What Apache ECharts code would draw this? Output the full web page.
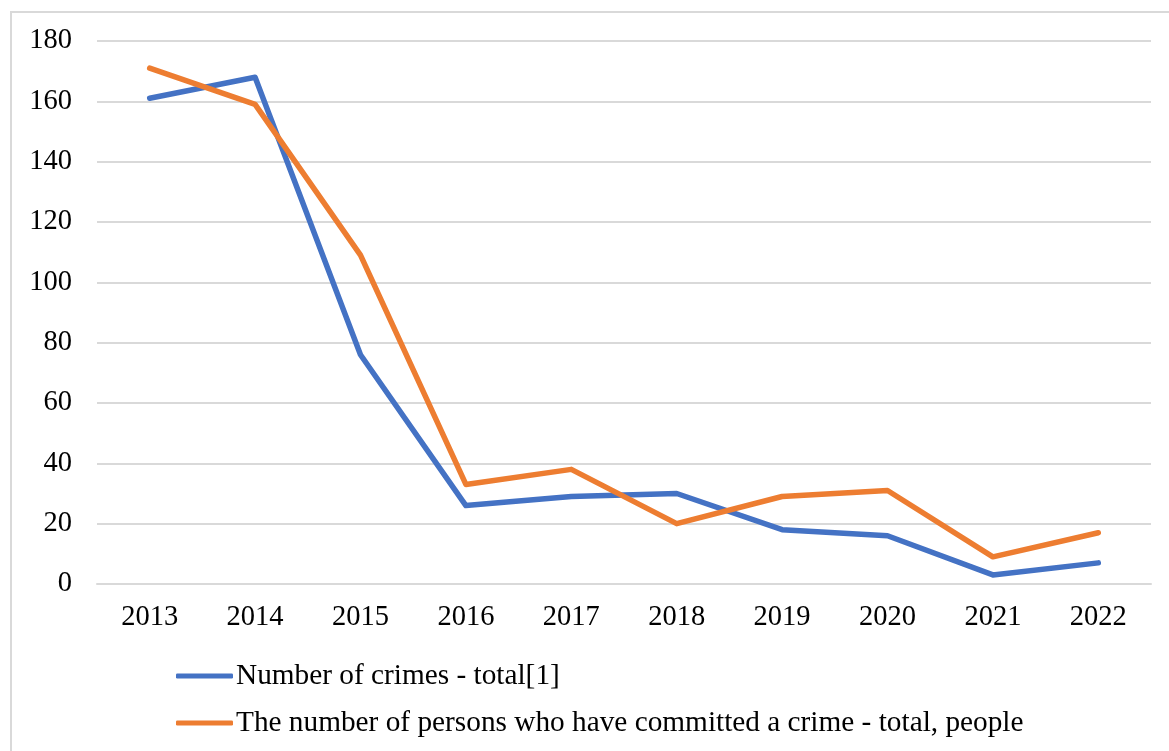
<!DOCTYPE html>
<html>
<head>
<meta charset="utf-8">
<script src="https://cdn.jsdelivr.net/npm/echarts@6/dist/echarts.min.js"></script>
<style>
  html, body { margin: 0; padding: 0; background: #fff; }
  #chart { width: 1169px; height: 751px; }
</style>
</head>
<body>
<div id="chart"></div>
<script>
const years = ['2013', '2014', '2015', '2016', '2017', '2018', '2019', '2020', '2021', '2022'];
const crimesTotal = [161, 168, 76, 26, 29, 30, 18, 16, 3, 7];
const personsTotal = [171, 159, 109, 33, 38, 20, 29, 31, 9, 17];
const yTicks = { min: 0, max: 180, interval: 20 };
const seriesNames = [
  'Number of crimes - total[1]',
  'The number of persons who have committed a crime - total, people'
];

const font = '"Liberation Serif", "Times New Roman", serif';
const chart = echarts.init(document.getElementById('chart'));

chart.setOption({
  backgroundColor: '#ffffff',
  animation: false,
  graphic: [{
    type: 'rect',
    shape: { x: 11, y: 12, width: 1300, height: 900 },
    style: { fill: 'none', stroke: '#d9d9d9', lineWidth: 2 },
    silent: true
  }],
  grid: { left: 97, right: 18, top: 41, bottom: 167 },
  legend: {
    orient: 'vertical',
    left: 171,
    top: 654,
    itemGap: 13,
    itemWidth: 57,
    itemHeight: 5,
    icon: 'roundRect',
    textStyle: { fontFamily: font, fontSize: 29.3, lineHeight: 34, color: '#000', padding: [0, 0, 0, -2] },
    data: seriesNames
  },
  xAxis: {
    type: 'category',
    data: years,
    boundaryGap: true,
    axisLine: { show: true, lineStyle: { color: '#d9d9d9', width: 2 } },
    axisTick: { show: false },
    axisLabel: { fontFamily: font, fontSize: 28.5, color: '#000', margin: 19 }
  },
  yAxis: {
    type: 'value',
    min: yTicks.min,
    max: yTicks.max,
    interval: yTicks.interval,
    axisLine: { show: false },
    axisTick: { show: false },
    splitLine: { lineStyle: { color: '#d9d9d9', width: 2 } },
    axisLabel: { fontFamily: font, fontSize: 28.5, color: '#000', margin: 25 }
  },
  series: [
    {
      name: seriesNames[0],
      type: 'line',
      data: crimesTotal,
      symbol: 'none',
      lineStyle: { color: '#4472c4', width: 5.5, cap: 'round', join: 'round' },
      itemStyle: { color: '#4472c4' }
    },
    {
      name: seriesNames[1],
      type: 'line',
      data: personsTotal,
      symbol: 'none',
      lineStyle: { color: '#ed7d31', width: 5.5, cap: 'round', join: 'round' },
      itemStyle: { color: '#ed7d31' }
    }
  ]
});
</script>
</body>
</html>
